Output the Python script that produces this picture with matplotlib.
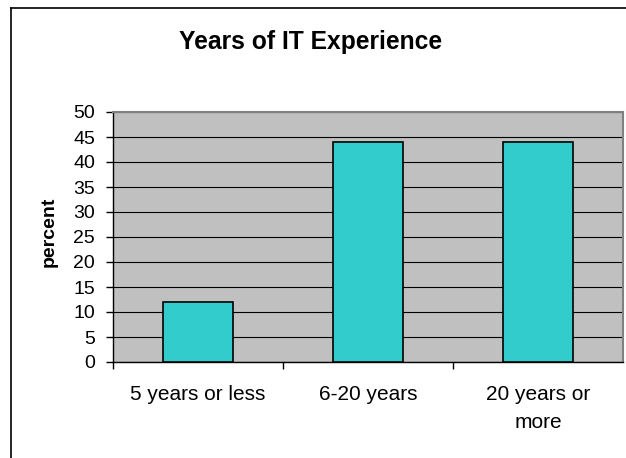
import matplotlib.pyplot as plt
from matplotlib.lines import Line2D

categories = ['5 years or less', '6-20 years', '20 years or\nmore']
values = [12, 44, 44]
yticks = [0, 5, 10, 15, 20, 25, 30, 35, 40, 45, 50]

plt.rcParams['font.family'] = ['Liberation Sans', 'DejaVu Sans']

W, H = 626, 458
fig = plt.figure(figsize=(W / 100, H / 100), dpi=100)
ax = fig.add_axes([113 / W, (H - 362) / H, 510 / W, 250 / H])

x = range(len(categories))
ax.set_facecolor('#c0c0c0')
ax.bar(x, values, width=0.41, color='#33cccc', edgecolor='black', linewidth=1.2, zorder=3)

ax.set_xlim(-0.5, len(categories) - 0.5)
ax.set_ylim(0, 50)
ax.set_yticks(yticks)
ax.yaxis.grid(True, color='black', linewidth=0.8, zorder=1)
ax.set_axisbelow(True)

# ticks on category borders, labels in the middle
ax.set_xticks([i + 0.5 for i in range(len(categories) - 1)] + [-0.5])
ax.set_xticklabels([])
ax.set_xticks(list(x), minor=True)
ax.set_xticklabels(categories, minor=True, fontsize=15, linespacing=1.62)
ax.tick_params(axis='x', which='minor', length=0, pad=16.5)
ax.tick_params(axis='x', which='major', length=5, width=1, direction='out')
ax.tick_params(axis='y', labelsize=14, length=5, width=1, pad=8)

for s in ['top', 'right']:
    ax.spines[s].set_color('#808080')
    ax.spines[s].set_linewidth(1.5)
ax.spines['left'].set_linewidth(1)
ax.spines['bottom'].set_linewidth(1)

fig.text(49 / W, 1 - 232 / H, 'percent', fontsize=14, fontweight='bold',
         rotation=90, ha='center', va='center')
fig.text(311 / W, 1 - 42 / H, 'Years of IT Experience', fontsize=17.7,
         fontweight='bold', ha='center', va='center')

# chart border (cut off at right and bottom)
fig.add_artist(Line2D([11 / W, 11 / W], [0, 1 - 8 / H], color='black', linewidth=1.2))
fig.add_artist(Line2D([11 / W, 1], [1 - 8 / H, 1 - 8 / H], color='black', linewidth=1.2))

fig.savefig('out.png', dpi=100)
